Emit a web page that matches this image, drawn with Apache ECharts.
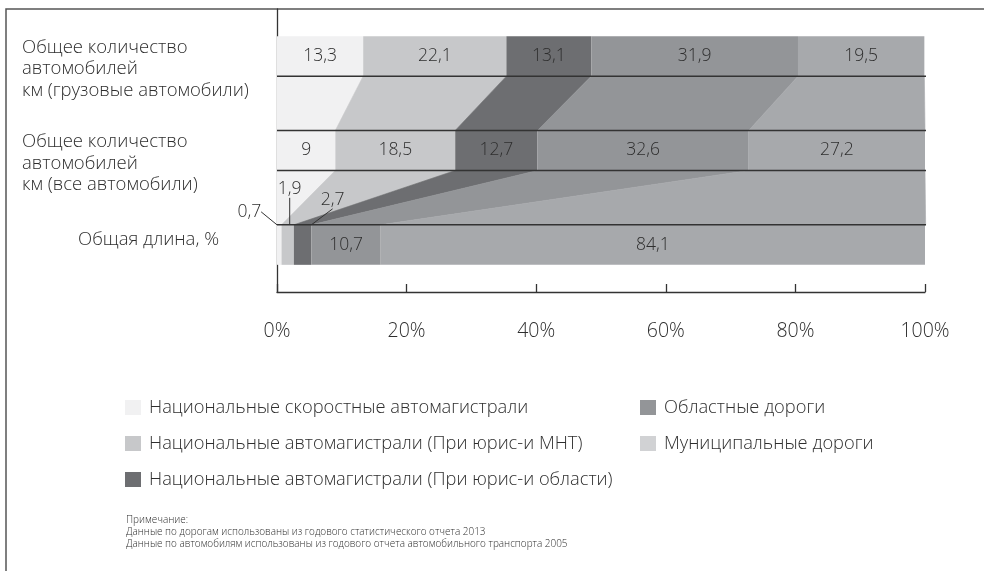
<!DOCTYPE html>
<html><head><meta charset="utf-8">
<script src="https://cdn.jsdelivr.net/npm/echarts@6/dist/echarts.min.js"></script>
<style>html,body{margin:0;padding:0;background:#fff}#c{width:984px;height:571px}</style>
</head><body><div id="c"></div>
<script>
// ---- data ----
const categories = [
  'Общая длина, %',
  'Общее количество\nавтомобилей\nкм (все автомобили)',
  'Общее количество\nавтомобилей\nкм (грузовые автомобили)'
];
const seriesNames = [
  'Национальные скоростные автомагистрали',
  'Национальные автомагистрали (При юрис-и МНТ)',
  'Национальные автомагистрали (При юрис-и области)',
  'Областные дороги',
  'Муниципальные дороги'
];
const expressways     = [0.7, 9, 13.3];
const nationalMnt     = [1.9, 18.5, 22.1];
const nationalRegion  = [2.7, 12.7, 13.1];
const regionalRoads   = [10.7, 32.6, 31.9];
const municipalRoads  = [84.1, 27.2, 19.5];
const xTicks = [0, 20, 40, 60, 80, 100];
const noteLines = [
  'Примечание:',
  'Данные по дорогам использованы из годового статистического отчета 2013',
  'Данные по автомобилям использованы из годового отчета автомобильного транспорта 2005'
];

// ---- style ----
const seriesValues = [expressways, nationalMnt, nationalRegion, regionalRoads, municipalRoads];
const colors = ['#f1f1f2', '#c7c8ca', '#6d6e71', '#939598', '#a7a9ac'];
const legendColors = ['#f1f1f2', '#c7c8ca', '#6d6e71', '#939598', '#d1d2d4'];
const FONT = '"Open Sans", "Noto Sans", sans-serif';
const TXT = '#2e2e2e';
const BAR_W = 40;
// label shifts (styling only) for the thin segments of the bottom bar
const smallShift = { 0: [-30, -33], 1: [2, -56], 2: [30, -45] };

function cum(ci) {
  const out = [0]; let s = 0;
  seriesValues.forEach(v => { s += v[ci]; out.push(s); });
  return out;
}
const fmt = v => String(v).replace('.', ',');

const barSeries = seriesNames.map((name, si) => ({
  name, type: 'bar', stack: 'total', barWidth: BAR_W, z: 2,
  itemStyle: { color: colors[si] },
  label: {
    show: true, position: 'inside', color: TXT, fontFamily: FONT, fontSize: 17.5, fontWeight: 300,
    formatter: p => fmt(p.value)
  },
  labelLine: { show: false },
  labelLayout: function (p) {
    if (p.dataIndex === 0 && smallShift[si]) {
      return { dx: smallShift[si][0], dy: smallShift[si][1] };
    }
    return {};
  },
  data: seriesValues[si].map((v, ci) => {
    if (ci === 0 && smallShift[si]) {
      return { value: v, labelLine: { show: true, length2: 0, lineStyle: { color: '#333', width: 1 } } };
    }
    return v;
  })
}));

const connectorData = [];
for (let g = 0; g < categories.length - 1; g++) {
  for (let s = 0; s < seriesValues.length; s++) connectorData.push([g, s]);
}

const legendText = { fontFamily: FONT, fontSize: 18.3, fontWeight: 300, color: TXT, lineHeight: 21, padding: [0, 0, 0, 3] };

const option = {
  animation: false,
  backgroundColor: '#fff',
  textStyle: { fontFamily: FONT },
  title: {
    text: noteLines.join('\n'),
    left: 121, top: 509,
    textStyle: { fontFamily: FONT, fontSize: 9.95, lineHeight: 12, fontWeight: 300, color: TXT }
  },
  grid: { left: 277, right: 59, top: 9, bottom: 279, containLabel: false },
  xAxis: {
    type: 'value', min: xTicks[0], max: xTicks[xTicks.length - 1], interval: xTicks[1] - xTicks[0],
    axisLine: { show: true, lineStyle: { color: '#333', width: 1.3 } },
    axisTick: { show: true, inside: true, length: 8, lineStyle: { color: '#333', width: 1.3 } },
    splitLine: { show: false },
    axisLabel: { formatter: '{value}%', color: TXT, fontFamily: FONT, fontSize: 19.5, fontWeight: 300, margin: 29 }
  },
  yAxis: {
    type: 'category', data: categories,
    axisLine: { show: true, lineStyle: { color: '#333', width: 1.3 } },
    axisTick: { show: false },
    axisLabel: {
      align: 'left', margin: 255, color: TXT, fontFamily: FONT, fontSize: 18.5, fontWeight: 300,
      lineHeight: 21.5,
      padding: [26, 0, 0, 0],
      formatter: (v, i) => i === 0 ? '{c|' + v + '}' : '{m|' + v + '}',
      rich: {
        c: { fontFamily: FONT, fontSize: 18.5, fontWeight: 300, color: TXT, lineHeight: 21.5, padding: [0, 0, 36, 56] },
        m: { fontFamily: FONT, fontSize: 18.5, fontWeight: 300, color: TXT, lineHeight: 21.5 }
      }
    }
  },
  legend: [
    {
      data: seriesNames.slice(0, 3).map((n, i) => ({ name: n, itemStyle: { color: legendColors[i] } })),
      orient: 'vertical', left: 120, top: 392, itemWidth: 16, itemHeight: 15, itemGap: 15,
      icon: 'rect', selectedMode: false, textStyle: legendText
    },
    {
      data: seriesNames.slice(3).map((n, i) => ({ name: n, itemStyle: { color: legendColors[i + 3] } })),
      orient: 'vertical', left: 635, top: 392, itemWidth: 16, itemHeight: 15, itemGap: 15,
      icon: 'rect', selectedMode: false, textStyle: legendText
    }
  ],
  graphic: [{
    type: 'polyline', silent: true,
    shape: { points: [[6, 571], [6, 9], [984, 9]] },
    style: { stroke: '#555', lineWidth: 1.5, fill: null }
  }],
  series: [
    {
      type: 'custom', name: 'connectors', z: 1, silent: true,
      encode: { x: 1, y: 0 },
      data: connectorData,
      renderItem: function (params, api) {
        const g = api.value(0), s = api.value(1);
        const lo = cum(g), hi = cum(g + 1);
        const yHi = api.coord([0, g + 1])[1] + BAR_W / 2;
        const yLo = api.coord([0, g])[1] - BAR_W / 2;
        const pts = [
          [api.coord([hi[s], g + 1])[0], yHi],
          [api.coord([hi[s + 1], g + 1])[0], yHi],
          [api.coord([lo[s + 1], g])[0], yLo],
          [api.coord([lo[s], g])[0], yLo]
        ];
        return { type: 'polygon', shape: { points: pts }, style: { fill: colors[s], stroke: colors[s], lineWidth: 0.6 } };
      }
    },
    ...barSeries,
    {
      type: 'custom', name: 'edges', z: 3, silent: true,
      encode: { x: 1, y: 0 },
      data: [[0, 0], [1, 0]],
      renderItem: function (params, api) {
        const g = api.value(0);
        const yHi = api.coord([0, g + 1])[1] + BAR_W / 2;
        const yLo = api.coord([0, g])[1] - BAR_W / 2;
        const x0 = api.coord([xTicks[0], g])[0];
        const x1 = api.coord([xTicks[xTicks.length - 1], g])[0] + 1;
        const st = { stroke: '#333', lineWidth: 1.5 };
        return { type: 'group', children: [
          { type: 'line', shape: { x1: x0, y1: yHi, x2: x1, y2: yHi }, style: st },
          { type: 'line', shape: { x1: x0, y1: yLo, x2: x1, y2: yLo }, style: st }
        ] };
      }
    }
  ]
};
const chart = echarts.init(document.getElementById('c'), null, { renderer: 'canvas' });
chart.setOption(option);
</script></body></html>
